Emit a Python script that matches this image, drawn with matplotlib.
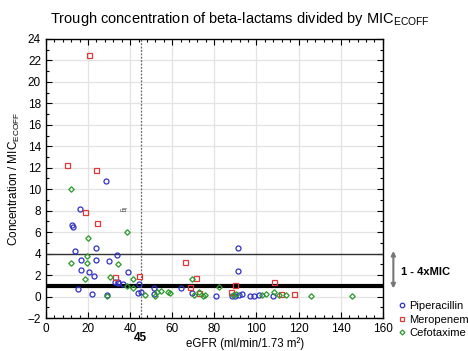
import matplotlib.pyplot as plt
import numpy as np
from matplotlib.ticker import MultipleLocator

# data
pip_x = [28.6, 16.3, 12.5, 13.0, 13.7, 23.8, 33.6, 16.9, 23.8, 30.1, 16.9, 20.5, 39.2, 22.7,
         32.8, 34.1, 34.1, 36.8, 44.1, 15.2, 21.8, 28.9, 43.9, 45.2, 51.2, 51.3, 64.4, 69.2,
         81.0, 91.3, 91.3, 88.3, 89.7, 91.8, 93.0, 96.8, 99.0, 101.2, 107.9]
pip_y = [10.74, 8.2, 6.66, 6.44, 4.27, 4.52, 3.9, 3.37, 3.44, 3.31, 2.48, 2.26, 2.3, 1.92,
         1.33, 1.36, 1.24, 1.18, 1.18, 0.71, 0.28, 0.18, 0.34, 0.44, 0.81, 0.25, 0.78, 0.34,
         0.09, 4.49, 2.41, 0.09, 0.09, 0.16, 0.25, 0.06, 0.03, 0.12, 0.09]

mero_x = [20.5, 9.8, 24.0, 18.6, 24.2, 32.8, 44.4, 66.3, 71.5, 68.4, 72.5, 89.7, 88.1,
          108.2, 111.8, 117.7]
mero_y = [22.5, 12.23, 11.76, 7.85, 6.84, 1.86, 1.89, 3.18, 1.73, 0.9, 0.33, 1.11, 0.4,
          1.33, 0.28, 0.21]

cefo_x = [12.0, 38.4, 20.2, 19.4, 12.1, 19.7, 34.3, 30.5, 18.5, 41.2, 38.5, 41.2, 28.9,
          46.9, 52.9, 51.8, 54.5, 58.1, 58.9, 69.3, 70.4, 72.8, 74.7, 75.4, 82.3, 90.5,
          88.9, 102.4, 104.7, 108.3, 110.7, 114.2, 126.0, 145.3]
cefo_y = [10.0, 5.97, 5.41, 3.74, 3.13, 3.13, 3.0, 1.83, 1.61, 1.61, 1.0, 0.75, 0.06,
          0.16, 0.46, 0.09, 0.49, 0.46, 0.37, 1.64, 0.16, 0.44, 0.09, 0.12, 0.87, 0.25,
          0.16, 0.12, 0.28, 0.46, 0.16, 0.12, 0.05, 0.09]

plt.rcParams['font.family'] = ['Liberation Sans', 'DejaVu Sans']
plt.rcParams['mathtext.default'] = 'regular'

fig = plt.figure(figsize=(4.68, 3.51), dpi=100)
ax = fig.add_axes([0.098, 0.094, 0.720, 0.795])

ax.grid(True, color='#e3e3e3', lw=0.9, zorder=0)
ax.axhline(4, color='#333333', lw=1.0, zorder=2)
ax.axhline(1, color='black', lw=3.0, zorder=2)
ax.axvline(45, color='#666666', lw=0.9, ls=(0, (1.5, 1.2)), zorder=2)

ax.plot(pip_x, pip_y, 'o', ms=3.6, mfc='none', mec='#3030c8', mew=0.9, zorder=3, label='Piperacillin')
ax.plot(mero_x, mero_y, 's', ms=3.6, mfc='none', mec='#e03838', mew=0.9, zorder=3, label='Meropenem')
ax.plot(cefo_x, cefo_y, 'D', ms=2.8, mfc='none', mec='#2a9a2a', mew=0.9, zorder=3, label='Cefotaxime')

ax.text(36.0, 8.1, 'lg', rotation=270, fontsize=5, color='#555555', ha='center', va='center')

ax.set_xlim(0, 160)
ax.set_ylim(-2, 24)
ax.xaxis.set_major_locator(MultipleLocator(20))
ax.yaxis.set_major_locator(MultipleLocator(2))
ax.xaxis.set_minor_locator(MultipleLocator(4))
ax.yaxis.set_minor_locator(MultipleLocator(1))
ax.tick_params(which='both', direction='in', top=True, right=True, labelsize=8.5, width=0.8)
ax.tick_params(which='major', length=4)
ax.tick_params(which='minor', length=2)
for s in ax.spines.values():
    s.set_linewidth(1.0)

ax.set_ylabel('Concentration / MIC$_{ECOFF}$', fontsize=8.5, labelpad=4)
fig.text(0.523, 0.022, 'eGFR (ml/min/1.73 m²)', fontsize=8.3, ha='center', va='center')
ax.text(45, -3.3, '45', fontsize=8.5, fontweight='bold', ha='center', va='top')

fig.text(0.513, 0.945, 'Trough concentration of beta-lactams divided by MIC$_{ECOFF}$',
         fontsize=10.5, ha='center', va='center')

# 1 - 4xMIC range marker
ax.annotate('', xy=(165, 0.75), xytext=(165, 4.25), xycoords='data',
            arrowprops=dict(arrowstyle='<|-|>', color='#777777', lw=1.5,
                            mutation_scale=6, shrinkA=0, shrinkB=0),
            annotation_clip=False)
ax.text(168.5, 2.3, '1 - 4xMIC', fontsize=8, fontweight='bold', va='center', ha='left')

fig.legend(loc='upper left', bbox_to_anchor=(396 / 468, 1 - 301 / 351), frameon=False,
           fontsize=8.0, handletextpad=0.2, borderaxespad=0, borderpad=0, labelspacing=0.32,
           handlelength=1.0, markerscale=0.9)

plt.savefig('out.png', dpi=100)
